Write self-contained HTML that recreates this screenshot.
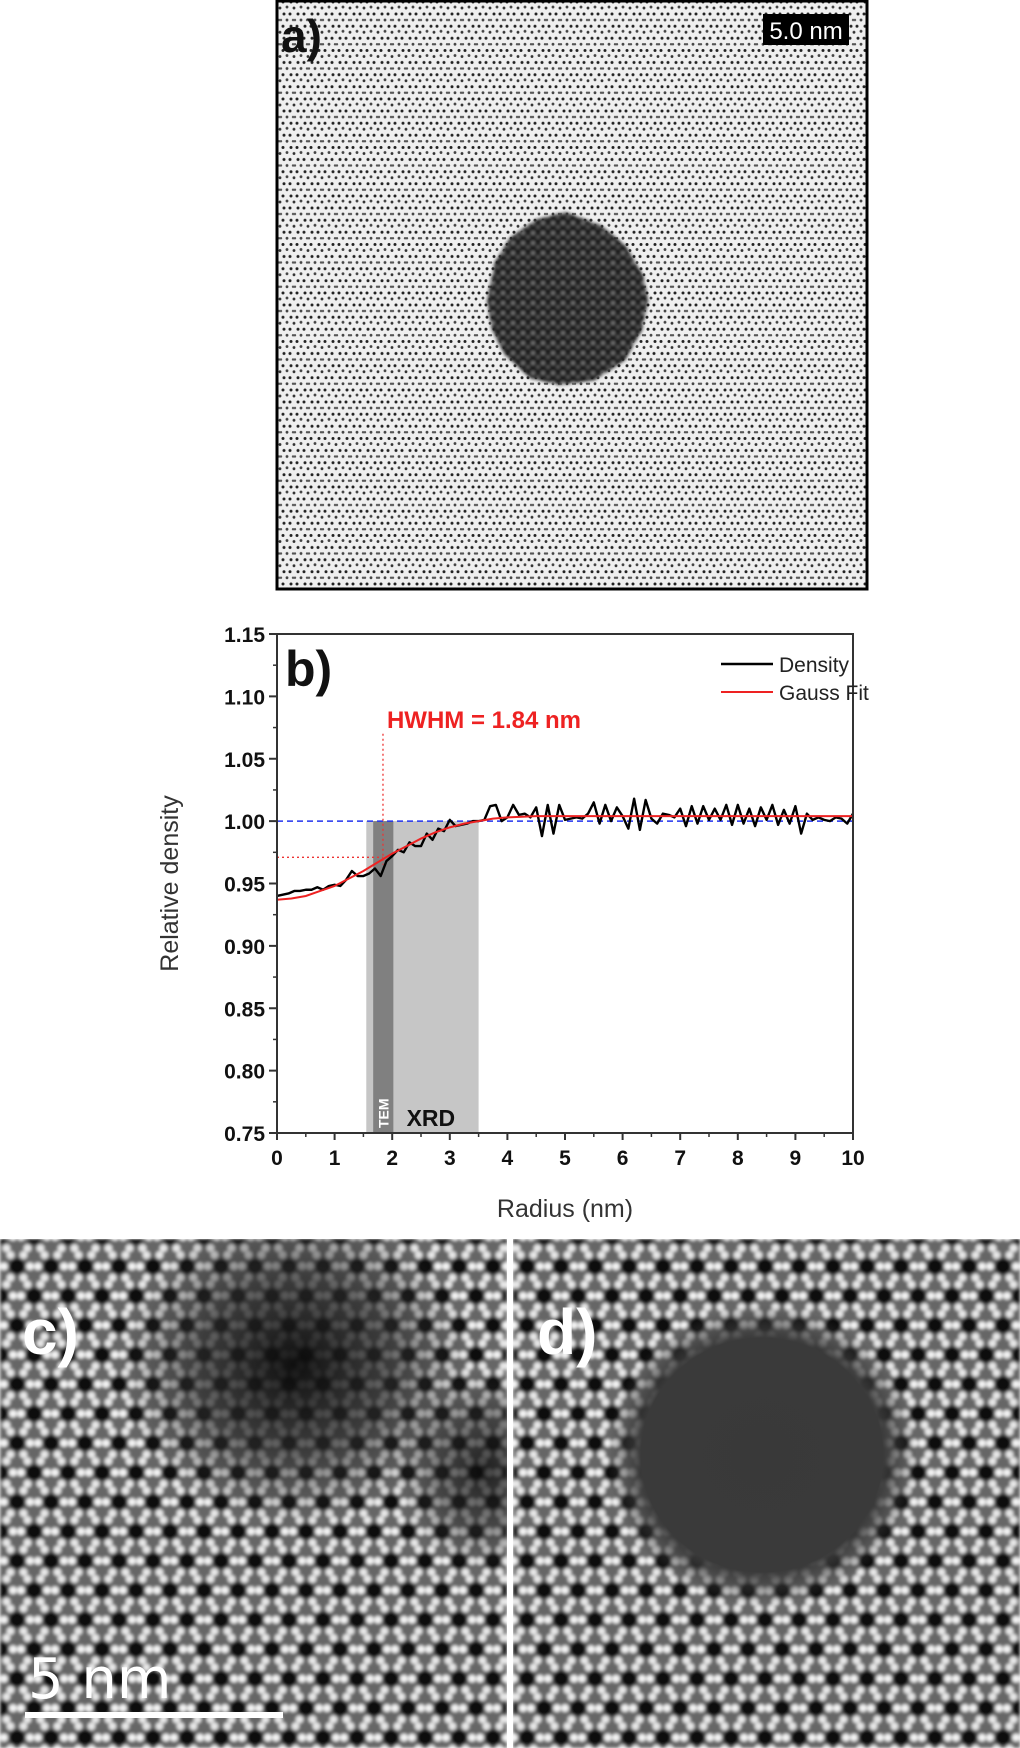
<!DOCTYPE html>
<html><head><meta charset="utf-8"><style>
html,body{margin:0;padding:0;background:#fff;width:1020px;height:1748px;overflow:hidden}
svg{display:block;font-family:"Liberation Sans",sans-serif}
</style></head><body>
<svg id="root" width="1020" height="1748" viewBox="0 0 1020 1748" xmlns="http://www.w3.org/2000/svg">
<defs>
  <pattern id="stip" width="14" height="24.25" patternUnits="userSpaceOnUse">
    <rect width="14" height="24.25" fill="#efefef"/>
    <circle cx="3" cy="2" r="1.5" fill="#222"/><circle cx="11" cy="2" r="1.5" fill="#222"/>
    <circle cx="0" cy="8" r="1.4" fill="#333"/><circle cx="7" cy="7" r="1.4" fill="#444"/>
    <circle cx="4" cy="14" r="1.5" fill="#222"/><circle cx="10" cy="14" r="1.5" fill="#222"/>
    <circle cx="14" cy="8" r="1.4" fill="#333"/><circle cx="7" cy="20" r="1.4" fill="#444"/>
    <circle cx="1" cy="20" r="1.2" fill="#555"/><circle cx="13" cy="20" r="1.2" fill="#555"/>
  </pattern>
  <pattern id="stipDark" width="10" height="10" patternUnits="userSpaceOnUse">
    <rect width="10" height="10" fill="#1e1e1e"/>
    <circle cx="3" cy="3" r="1.4" fill="#aaa"/><circle cx="8" cy="7" r="1.2" fill="#888"/>
  </pattern>
  <pattern id="lat" width="34" height="58.9" patternUnits="userSpaceOnUse">
    <rect width="34" height="58.9" fill="#666"/>
    <g id="cell">
      <circle cx="0" cy="0" r="8" fill="#080808"/>
      <circle cx="13" cy="0" r="3.9" fill="#f4f4f4"/><circle cx="-13" cy="0" r="3.9" fill="#f4f4f4"/>
      <circle cx="6.5" cy="11.3" r="3.9" fill="#e8e8e8"/><circle cx="-6.5" cy="11.3" r="3.9" fill="#e8e8e8"/>
      <circle cx="6.5" cy="-11.3" r="3.9" fill="#e8e8e8"/><circle cx="-6.5" cy="-11.3" r="3.9" fill="#e8e8e8"/>
    </g>
    <use href="#cell" x="34" y="0"/><use href="#cell" x="0" y="58.9"/><use href="#cell" x="34" y="58.9"/>
    <use href="#cell" x="17" y="29.45"/>
  </pattern>
  <filter id="blur4"><feGaussianBlur stdDeviation="1.5"/></filter>
  <radialGradient id="blobC" cx="0.5" cy="0.5" r="0.5">
    <stop offset="0" stop-color="#0a0a0a" stop-opacity="0.95"/>
    <stop offset="0.55" stop-color="#2a2a2a" stop-opacity="0.7"/>
    <stop offset="1" stop-color="#333" stop-opacity="0"/>
  </radialGradient>
  <radialGradient id="blobD" cx="0.5" cy="0.5" r="0.5">
    <stop offset="0" stop-color="#393939" stop-opacity="1"/>
    <stop offset="0.78" stop-color="#3a3a3a" stop-opacity="1"/>
    <stop offset="1" stop-color="#3c3c3c" stop-opacity="0"/>
  </radialGradient>
  <clipPath id="clipC"><rect x="0" y="1239" width="507" height="509"/></clipPath>
  <clipPath id="clipD"><rect x="513" y="1239" width="507" height="509"/></clipPath>
</defs>

<g>
  <rect x="277" y="1" width="590" height="588" fill="url(#stip)" stroke="#000" stroke-width="3"/>
  <polygon points="565,212 600,225 625,245 643,275 648,300 642,330 625,360 595,380 560,385 530,378 505,355 492,330 487,300 495,262 510,238 535,220" fill="url(#stipDark)" filter="url(#blur4)"/>
  <text x="281" y="52" font-size="46" font-weight="bold" fill="#111">a)</text>
  <rect x="763" y="14" width="86" height="31" fill="#000"/>
  <text x="806" y="39" font-size="24" fill="#fff" text-anchor="middle">5.0 nm</text>
</g>

<g id="chart"></g>

<g clip-path="url(#clipC)">
  <rect x="0" y="1239" width="507" height="509" fill="url(#lat)" filter="url(#blur4)"/>
  <ellipse cx="295" cy="1365" rx="175" ry="160" fill="url(#blobC)"/>
  <ellipse cx="485" cy="1470" rx="90" ry="100" fill="url(#blobC)" opacity="0.8"/>
  <text x="22" y="1354" font-size="64" font-weight="bold" fill="#fff">c)</text>
  <text x="28" y="1698" font-size="56" fill="#fff" font-family="DejaVu Sans, sans-serif">5  nm</text>
  <rect x="25" y="1712" width="258" height="6" fill="#fff"/>
</g>
<rect x="507" y="1239" width="6" height="509" fill="#fff"/>
<g clip-path="url(#clipD)">
  <rect x="513" y="1239" width="507" height="509" fill="url(#lat)" filter="url(#blur4)"/>
  <ellipse cx="762" cy="1455" rx="155" ry="150" fill="url(#blobD)"/>
  <text x="537" y="1354" font-size="64" font-weight="bold" fill="#fff">d)</text>
</g>
</svg>
<script>
const xTicks = [0,1,2,3,4,5,6,7,8,9,10];
const yTicks = [0.75,0.80,0.85,0.90,0.95,1.00,1.05,1.10,1.15];
const radiusStep = 0.1;
const density = [0.940,0.941,0.942,0.944,0.944,0.945,0.945,0.947,0.945,0.948,
0.949,0.948,0.953,0.960,0.956,0.956,0.958,0.962,0.956,0.968,
0.972,0.977,0.975,0.983,0.980,0.980,0.990,0.985,0.994,0.992,
1.001,0.996,0.997,0.998,1.000,1.000,1.001,1.012,1.013,1.000,
1.003,1.013,1.005,1.006,1.003,1.011,0.988,1.013,0.990,1.013,
1.001,1.002,1.003,1.002,1.006,1.015,0.998,1.013,1.000,1.011,
1.004,0.994,1.018,0.993,1.017,1.002,0.998,1.006,1.005,1.003,
1.010,0.996,1.012,0.998,1.012,1.001,1.010,1.001,1.013,0.997,
1.013,0.998,1.010,0.996,1.011,1.001,1.013,0.997,1.009,0.998,
1.012,0.990,1.006,1.001,1.003,1.001,1.000,1.003,1.002,0.998,1.006];
const fitX = [0,0.25,0.5,0.75,1,1.25,1.5,1.75,2,2.25,2.5,2.75,3,3.25,3.5,3.75,4,4.5,5,6,7,8,9,10];
const fitY = [0.937,0.938,0.940,0.944,0.948,0.954,0.960,0.967,0.974,0.980,0.986,0.991,0.995,0.998,1.000,1.002,1.003,1.004,1.004,1.004,1.004,1.004,1.004,1.004];
const hwhm = 1.84, hwhmY = 0.971;
const xrdBand = [1.55,3.5], temBand = [1.67,2.02];

const NS='http://www.w3.org/2000/svg';
const L=277,R=853,T=634,B=1133;
const X=v=>L+(v-0)/(10-0)*(R-L);
const Y=v=>T+(1.15-v)/(1.15-0.75)*(B-T);
const g=document.getElementById('chart');
function mk(tag,a,parent){const e=document.createElementNS(NS,tag);for(const k in a)e.setAttribute(k,a[k]);(parent||g).appendChild(e);return e;}

let e;
e=mk('rect',{x:X(xrdBand[0]),y:Y(1.0),width:X(xrdBand[1])-X(xrdBand[0]),height:Y(0.75)-Y(1.0),fill:'#c6c6c6'});


e=mk('rect',{x:X(temBand[0]),y:Y(1.0),width:X(temBand[1])-X(temBand[0]),height:Y(0.75)-Y(1.0),fill:'#808080'});


e=mk('text',{x:0,y:0,'font-size':14,'font-weight':'bold',fill:'#fff',transform:`translate(${(X(temBand[0])+X(temBand[1]))/2+5},${B-5}) rotate(-90)`});
e.textContent='TEM';


e=mk('text',{x:X(2.25),y:B-7,'font-size':23,'font-weight':'bold',fill:'#111'});
e.textContent='XRD';



e=mk('line',{x1:L,x2:R,y1:Y(1.0),y2:Y(1.0),stroke:'#2233ee','stroke-width':1.6,'stroke-dasharray':'6,4'});


e=mk('line',{x1:X(hwhm),x2:X(hwhm),y1:Y(1.07),y2:Y(hwhmY-0.006),stroke:'#e33','stroke-width':1.3,'stroke-dasharray':'2,3'});


e=mk('line',{x1:L,x2:X(hwhm),y1:Y(hwhmY),y2:Y(hwhmY),stroke:'#e33','stroke-width':1.3,'stroke-dasharray':'2,3'});



e=mk('polyline',{points:density.map((v,i)=>X(i*radiusStep)+','+Y(v)).join(' '),fill:'none',stroke:'#000','stroke-width':2.4,'stroke-linejoin':'round'});


e=mk('polyline',{points:fitX.map((v,i)=>X(v)+','+Y(fitY[i])).join(' '),fill:'none',stroke:'#ee2222','stroke-width':2});



e=mk('rect',{x:L,y:T,width:R-L,height:B-T,fill:'none',stroke:'#333','stroke-width':2});



xTicks.forEach(v=>{
  e=mk('line',{x1:X(v),x2:X(v),y1:B,y2:B+7,stroke:'#333','stroke-width':2});
  
  
  if(v<10){const m=mk('line',{x1:X(v+0.5),x2:X(v+0.5),y1:B,y2:B+4,stroke:'#333','stroke-width':1.5});
  
  }
  e=mk('text',{x:X(v),y:B+32,'font-size':21,'font-weight':'bold','text-anchor':'middle',fill:'#111'});
  e.textContent=v;
  
  
});
yTicks.forEach((v,i)=>{
  e=mk('line',{x1:L-8,x2:L,y1:Y(v),y2:Y(v),stroke:'#333','stroke-width':2});
  
  
  if(i<yTicks.length-1){const m=mk('line',{x1:L-4,x2:L,y1:Y(v+0.025),y2:Y(v+0.025),stroke:'#333','stroke-width':1.5});
  
  }
  e=mk('text',{x:L-12,y:Y(v)+8,'font-size':21,'font-weight':'bold','text-anchor':'end',fill:'#111'});
  e.textContent=v.toFixed(2);
  
  
});
e=mk('text',{x:0,y:0,'font-size':25,'text-anchor':'middle',fill:'#333',transform:`translate(178,${(T+B)/2}) rotate(-90)`});
e.textContent='Relative density';


e=mk('text',{x:(L+R)/2,y:1217,'font-size':25,'text-anchor':'middle',fill:'#333'});
e.textContent='Radius (nm)';


e=mk('text',{x:285,y:686,'font-size':50,'font-weight':'bold',fill:'#111'});
e.textContent='b)';


e=mk('text',{x:X(hwhm)+4,y:728,'font-size':24,'font-weight':'bold',fill:'#ee2222'});
e.textContent='HWHM = 1.84 nm';


e=mk('line',{x1:721,x2:773,y1:664,y2:664,stroke:'#000','stroke-width':2.4});


e=mk('text',{x:779,y:672,'font-size':21,fill:'#222'});
e.textContent='Density';


e=mk('line',{x1:721,x2:773,y1:692,y2:692,stroke:'#ee2222','stroke-width':2});


e=mk('text',{x:779,y:700,'font-size':21,fill:'#222'});
e.textContent='Gauss Fit';


</script>
</body></html>
